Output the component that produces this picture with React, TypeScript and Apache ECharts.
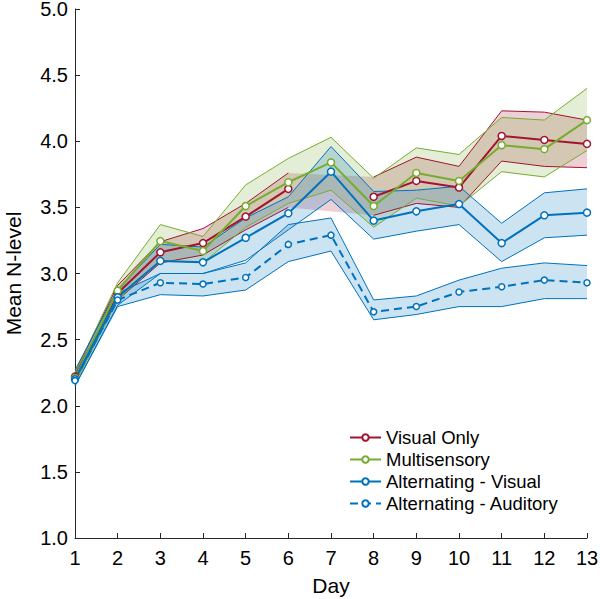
import { useEffect, useRef } from 'react';
import * as echarts from 'echarts';

// Day number on the x axis
const days = [1, 2, 3, 4, 5, 6, 7, 8, 9, 10, 11, 12, 13];
const yTicks = [1.0, 1.5, 2.0, 2.5, 3.0, 3.5, 4.0, 4.5, 5.0];

// Visual Only (day 7 missing)
const visualOnly = [2.22, 2.85, 3.16, 3.23, 3.43, 3.64, null, 3.58, 3.70, 3.65, 4.04, 4.01, 3.98];
const visualOnlyHi = [2.25, 2.91, 3.24, 3.34, 3.53, 3.76, null, 3.73, 3.88, 3.81, 4.23, 4.22, 4.16];
const visualOnlyLo = [2.19, 2.80, 3.08, 3.14, 3.33, 3.50, null, 3.44, 3.53, 3.50, 3.85, 3.81, 3.80];

// Multisensory
const multi = [2.21, 2.87, 3.245, 3.17, 3.51, 3.69, 3.84, 3.51, 3.76, 3.70, 3.97, 3.94, 4.16];
const multiHi = [2.25, 2.93, 3.37, 3.28, 3.67, 3.87, 4.03, 3.72, 3.95, 3.90, 4.18, 4.16, 4.40];
const multiLo = [2.17, 2.80, 3.10, 3.08, 3.35, 3.53, 3.63, 3.35, 3.57, 3.51, 3.77, 3.73, 3.93];

// Alternating - Visual
const altVis = [2.20, 2.82, 3.095, 3.085, 3.27, 3.455, 3.77, 3.40, 3.47, 3.525, 3.23, 3.44, 3.46];
const altVisHi = [2.27, 2.88, 3.22, 3.20, 3.42, 3.58, 3.96, 3.62, 3.63, 3.66, 3.38, 3.61, 3.64];
const altVisLo = [2.15, 2.76, 3.00, 3.00, 3.10, 3.33, 3.56, 3.26, 3.32, 3.37, 3.09, 3.27, 3.29];

// Alternating - Auditory
const altAud = [2.19, 2.80, 2.93, 2.92, 2.97, 3.22, 3.29, 2.71, 2.75, 2.86, 2.90, 2.95, 2.93];
const altAudHi = [2.23, 2.85, 3.00, 3.00, 3.08, 3.37, 3.42, 2.80, 2.83, 2.95, 3.04, 3.08, 3.06];
const altAudLo = [2.15, 2.75, 2.84, 2.83, 2.875, 3.09, 3.17, 2.65, 2.69, 2.75, 2.75, 2.81, 2.81];

const RED = '#A2142F';
const GREEN = '#77AC30';
const BLUE = '#0072BD';
const FONT = '"Liberation Sans", Arial, sans-serif';

const pairs = (vals: (number | null)[]) => days.map((d, i) => [d, vals[i]]);

// filled band between lo and hi, drawn as one polygon (missing days are skipped)
function bandSeries(lo: (number | null)[], hi: (number | null)[], color: string, z: number): any {
  const idx = days.map((_, i) => i).filter((i) => lo[i] != null && hi[i] != null);
  return {
    type: 'custom',
    silent: true,
    z,
    data: idx.map((i) => [days[i], lo[i], hi[i]]),
    encode: { x: 0, y: [1, 2] },
    renderItem: (params: any, api: any) => {
      if (params.dataIndex !== 0) return null;
      const top = idx.map((i) => api.coord([days[i], hi[i]]));
      const bottom = idx.map((i) => api.coord([days[i], lo[i]])).reverse();
      return {
        type: 'polygon',
        shape: { points: top.concat(bottom) },
        style: { fill: color, opacity: 0.2 },
      };
    },
  };
}

function edgeSeries(vals: (number | null)[], color: string, z: number): any {
  return {
    type: 'line',
    data: pairs(vals),
    symbol: 'none',
    silent: true,
    z,
    lineStyle: { color, width: 1 },
  };
}

function meanSeries(name: string, vals: (number | null)[], color: string, dashed: boolean): any {
  return {
    name,
    type: 'line',
    data: pairs(vals),
    symbol: 'circle',
    symbolSize: dashed ? 6 : 7,
    z: 5,
    itemStyle: { color: '#fff', borderColor: color, borderWidth: 1.5 },
    lineStyle: { color, width: 2, type: dashed ? [8, 5] : 'solid' },
  };
}

export default function App() {
  const chartRef = useRef<HTMLDivElement>(null);

  useEffect(() => {
    if (!chartRef.current) return;
    const chart = echarts.init(chartRef.current, undefined, { renderer: 'svg' });

    const option: any = {
      animation: false,
      backgroundColor: '#fff',
      textStyle: { fontFamily: FONT },
      grid: { left: 75, right: 13, top: 9, bottom: 61, outerBoundsMode: 'none' },
      legend: {
        data: ['Visual Only', 'Multisensory', 'Alternating - Visual', 'Alternating - Auditory'],
        orient: 'vertical',
        left: 349,
        top: 428,
        padding: 0,
        itemWidth: 31,
        itemHeight: 8,
        itemGap: 3,
        textStyle: { fontSize: 18.5, color: '#000', fontFamily: FONT },
      },
      xAxis: {
        type: 'value',
        min: 1,
        max: 13,
        interval: 1,
        name: 'Day',
        nameLocation: 'middle',
        nameGap: 37,
        nameTextStyle: { fontSize: 21, color: '#000', fontFamily: FONT },
        axisLine: { lineStyle: { color: '#262626', width: 1 } },
        axisTick: { inside: true, length: 5, lineStyle: { color: '#262626' } },
        axisLabel: { fontSize: 20, color: '#000', margin: 10, fontFamily: FONT },
        splitLine: { show: false },
      },
      yAxis: {
        type: 'value',
        min: yTicks[0],
        max: yTicks[yTicks.length - 1],
        interval: 0.5,
        name: 'Mean N-level',
        nameLocation: 'middle',
        nameGap: 51,
        nameTextStyle: { fontSize: 21, color: '#000', fontFamily: FONT },
        axisLine: { show: true, lineStyle: { color: '#262626', width: 1 } },
        axisTick: { show: true, inside: true, length: 5, lineStyle: { color: '#262626' } },
        axisLabel: {
          fontSize: 20,
          lineHeight: 14,
          color: '#000',
          margin: 7,
          fontFamily: FONT,
          formatter: (v: number) => v.toFixed(1),
        },
        splitLine: { show: false },
      },
      series: [
        bandSeries(visualOnlyLo, visualOnlyHi, RED, 1),
        bandSeries(multiLo, multiHi, GREEN, 1),
        bandSeries(altVisLo, altVisHi, BLUE, 1),
        bandSeries(altAudLo, altAudHi, BLUE, 1),
        edgeSeries(visualOnlyHi, RED, 2),
        edgeSeries(visualOnlyLo, RED, 2),
        edgeSeries(multiHi, GREEN, 2),
        edgeSeries(multiLo, GREEN, 2),
        edgeSeries(altVisHi, BLUE, 2),
        edgeSeries(altVisLo, BLUE, 2),
        edgeSeries(altAudHi, BLUE, 2),
        edgeSeries(altAudLo, BLUE, 2),
        meanSeries('Visual Only', visualOnly, RED, false),
        meanSeries('Multisensory', multi, GREEN, false),
        meanSeries('Alternating - Visual', altVis, BLUE, false),
        meanSeries('Alternating - Auditory', altAud, BLUE, true),
      ],
    };

    chart.setOption(option);
    return () => chart.dispose();
  }, []);

  return (
    <div
      ref={chartRef}
      style={{ position: 'fixed', left: 0, top: 0, width: 600, height: 599 }}
    />
  );
}
